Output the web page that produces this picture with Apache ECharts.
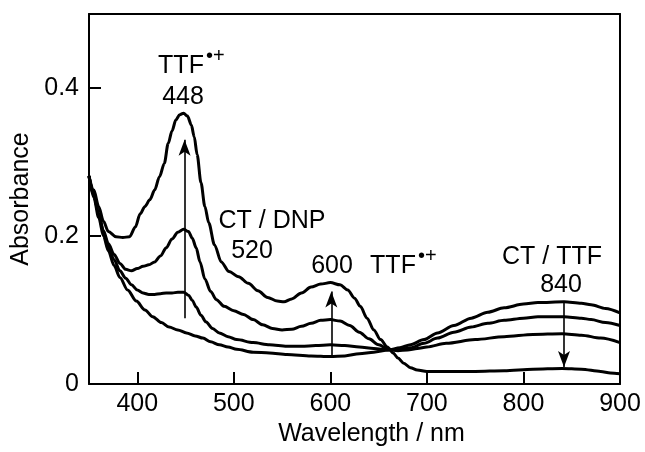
<!DOCTYPE html>
<html><head><meta charset="utf-8">
<script src="https://cdn.jsdelivr.net/npm/echarts@6/dist/echarts.min.js"></script>
<style>html,body{margin:0;padding:0;background:#fff}#c{width:645px;height:452px}</style>
</head><body><div id="c"></div>
<script>
// Axis ticks
const xTickValues = [400, 500, 600, 700, 800];
const xLabelValues = [400, 500, 600, 700, 800, 900];
const yTickValues = [0, 0.2, 0.4];

// Curve A (largest TTF•+ bands)
const wlA = [350,355,360,365,370,378,385,392,398,403,408,413,418,423,428,432,436,440,444,448,452,456,459,462,466,470,474,480,487,495,505,515,525,535,545,552,560,570,580,590,600,610,618,625,631,638,645,652,659,665,670,676,683,690,700,720,750,780,810,840,860,880,890,900];
const absA = [0.281,0.262,0.240,0.220,0.206,0.199,0.198,0.199,0.212,0.230,0.240,0.249,0.262,0.280,0.298,0.325,0.342,0.357,0.364,0.366,0.362,0.350,0.334,0.310,0.272,0.240,0.218,0.188,0.165,0.152,0.145,0.136,0.126,0.117,0.112,0.111,0.115,0.123,0.131,0.135,0.137,0.134,0.127,0.116,0.105,0.089,0.073,0.060,0.050,0.042,0.035,0.028,0.022,0.019,0.017,0.017,0.017,0.018,0.020,0.021,0.020,0.017,0.015,0.014];

// Curve B
const wlB = [350,355,360,365,370,376,382,388,394,400,406,412,418,424,430,436,442,448,453,457,461,465,470,476,482,490,500,510,520,530,540,550,560,570,580,590,600,610,620,630,640,650,660,670,680,690,700,720,750,780,810,840,860,880,900];
const absB = [0.281,0.255,0.230,0.207,0.190,0.175,0.163,0.155,0.153,0.156,0.159,0.161,0.165,0.173,0.184,0.196,0.205,0.209,0.206,0.197,0.184,0.165,0.142,0.125,0.114,0.105,0.099,0.094,0.087,0.080,0.075,0.073,0.074,0.078,0.082,0.086,0.087,0.085,0.079,0.070,0.061,0.053,0.047,0.045,0.046,0.048,0.050,0.055,0.060,0.064,0.067,0.068,0.066,0.062,0.056];

// Curve C
const wlC = [350,355,360,365,370,376,382,388,394,400,406,412,418,424,430,436,442,448,453,457,461,466,471,478,485,494,503,520,537,555,570,585,600,615,630,645,660,670,683,697,711,728,746,763,780,800,815,842,860,870,885,900];
const absC = [0.281,0.255,0.230,0.205,0.185,0.168,0.153,0.143,0.134,0.127,0.123,0.121,0.121,0.122,0.123,0.123,0.124,0.124,0.120,0.113,0.104,0.093,0.084,0.075,0.069,0.064,0.060,0.056,0.053,0.051,0.051,0.052,0.053,0.052,0.050,0.048,0.046,0.046,0.049,0.055,0.062,0.070,0.077,0.082,0.086,0.089,0.091,0.091,0.089,0.087,0.083,0.079];

// Curve D (no TTF•+)
const wlD = [350,355,360,365,370,376,382,390,399,408,416,425,433,442,451,460,468,476,485,494,503,520,537,555,580,600,615,630,645,660,672,683,697,711,728,746,763,780,800,815,842,860,870,885,900];
const absD = [0.281,0.252,0.225,0.200,0.180,0.160,0.144,0.127,0.112,0.100,0.091,0.083,0.077,0.073,0.069,0.065,0.062,0.057,0.053,0.050,0.047,0.043,0.042,0.040,0.038,0.037,0.038,0.041,0.043,0.046,0.049,0.053,0.060,0.069,0.079,0.089,0.097,0.103,0.108,0.110,0.111,0.109,0.107,0.102,0.096];

// Arrows (wavelength, start absorbance, end absorbance)
const arrowX = [449, 601, 842];
const arrowFrom = [0.089, 0.035, 0.111];
const arrowTo = [0.330, 0.125, 0.023];

const FONT = '"Liberation Sans", Arial, Helvetica, sans-serif';
const pairs = (w, a) => w.map((v, i) => [v, a[i]]);
const lineSeries = (name, w, a) => ({
  name, type: 'line', data: pairs(w, a), showSymbol: false, symbol: 'none',
  smooth: 0.3, smoothMonotone: 'x', silent: true,
  lineStyle: { color: '#000', width: 3 }, emphasis: { disabled: true }
});

const seriesList = [
  lineSeries('A', wlA, absA),
  lineSeries('B', wlB, absB),
  lineSeries('C', wlC, absC),
  lineSeries('D', wlD, absD)
];
seriesList[0].markLine = {
  silent: true, symbol: ['none', 'arrow'], symbolSize: [9, 16],
  label: { show: false },
  lineStyle: { color: '#000', width: 1.6, type: 'solid' },
  emphasis: { disabled: true },
  data: arrowX.map((x, i) => [{ coord: [x, arrowFrom[i]] }, { coord: [x, arrowTo[i]] }])
};

const txt = (text, x, y, size, align) => ({
  type: 'text', x, y, silent: true,
  style: { text, fill: '#000', font: size + 'px ' + FONT, align: align || 'center', verticalAlign: 'middle' }
});

const chart = echarts.init(document.getElementById('c'), null, { renderer: 'canvas' });
chart.setOption({
  animation: false,
  backgroundColor: '#fff',
  grid: { left: 89, right: 25, top: 14, bottom: 68 },
  xAxis: [{
    type: 'value', min: 350, max: 900,
    name: 'Wavelength / nm', nameLocation: 'middle', nameGap: 36,
    nameTextStyle: { fontFamily: FONT, fontSize: 25, color: '#000', padding: [0, 0, 0, 34] },
    axisLine: { show: true, lineStyle: { color: '#000', width: 2 } },
    axisTick: { show: true, inside: true, length: 12, lineStyle: { color: '#000', width: 2 }, customValues: xTickValues },
    axisLabel: { fontFamily: FONT, fontSize: 25, color: '#000', margin: 8, customValues: xLabelValues },
    splitLine: { show: false }
  }, {
    type: 'value', min: 350, max: 900, position: 'top',
    axisLine: { show: true, onZero: false, lineStyle: { color: '#000', width: 2 } },
    axisTick: { show: false }, axisLabel: { show: false }, splitLine: { show: false }
  }],
  yAxis: [{
    type: 'value', min: 0, max: 0.5,
    name: 'Absorbance', nameLocation: 'middle', nameGap: 52, nameRotate: 90,
    nameTextStyle: { fontFamily: FONT, fontSize: 25, color: '#000' },
    axisLine: { show: true, lineStyle: { color: '#000', width: 2 } },
    axisTick: { show: true, inside: true, length: 12, lineStyle: { color: '#000', width: 2 }, customValues: yTickValues },
    axisLabel: { fontFamily: FONT, fontSize: 25, color: '#000', margin: 10, customValues: yTickValues,
      formatter: v => (v === 0 ? '0' : v.toFixed(1)) },
    splitLine: { show: false }
  }, {
    type: 'value', min: 0, max: 0.5, position: 'right',
    axisLine: { show: true, onZero: false, lineStyle: { color: '#000', width: 2 } },
    axisTick: { show: false }, axisLabel: { show: false }, splitLine: { show: false }
  }],
  series: seriesList,
  graphic: [
    txt('TTF', 181, 66, 25),
    txt('•+', 206, 56, 20, 'left'),
    txt('448', 183, 97, 25),
    txt('CT / DNP', 272, 221, 25),
    txt('520', 252, 251, 25),
    txt('600', 332, 266, 25),
    txt('TTF', 393, 266, 25),
    txt('•+', 418, 256, 20, 'left'),
    txt('CT / TTF', 552, 257, 25),
    txt('840', 561, 285, 25)
  ]
});
</script>
</body></html>
